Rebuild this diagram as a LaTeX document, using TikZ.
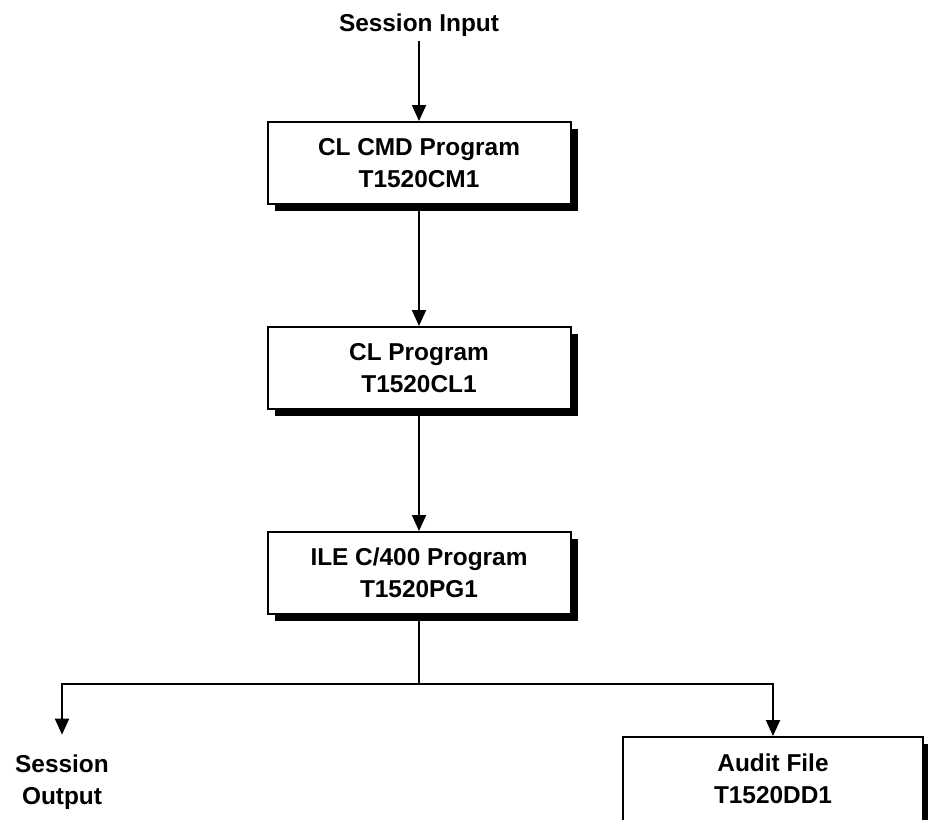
\documentclass[tikz,border=0pt]{standalone}
\usepackage{fontspec}
\setmainfont{Liberation Sans}
\usetikzlibrary{arrows.meta,shadows}
\tikzset{>={Triangle[length=16pt,width=14pt]}}

\begin{document}
\begin{tikzpicture}[x=1pt,y=-1pt,line width=2pt,
  every node/.style={font=\fontsize{24.4}{32}\selectfont\bfseries},
  prog/.style={draw,fill=white,minimum width=303pt,minimum height=82pt,align=center,
    drop shadow={shadow xshift=7pt,shadow yshift=-7pt,fill=black,opacity=1}},
  lbl/.style={align=center,inner xsep=4pt,inner ysep=4pt}]
\useasboundingbox (0,0) rectangle (928,819);
\node[lbl] (in) at (419,25) {Session Input};
\node[prog] (cmd) at (419,163) {CL CMD Program\\T1520CM1};
\node[prog] (cl) at (419,368) {CL Program\\T1520CL1};
\node[prog] (pgm) at (419,573) {ILE C/400 Program\\T1520PG1};
\node[lbl,inner ysep=19pt] (sout) at (62,782) {Session\\Output};
\node[prog,minimum width=300pt,minimum height=84pt] (audit) at (773,779) {Audit File\\T1520DD1};
\coordinate (split) at (419,684);
\draw[->] (in) -- (cmd);
\draw[->] (cmd) -- (cl);
\draw[->] (cl) -- (pgm);
\draw (pgm) -- (split);
\draw[->] (split) -| (sout);
\draw[->] (split) -| (audit);
\end{tikzpicture}
\end{document}
